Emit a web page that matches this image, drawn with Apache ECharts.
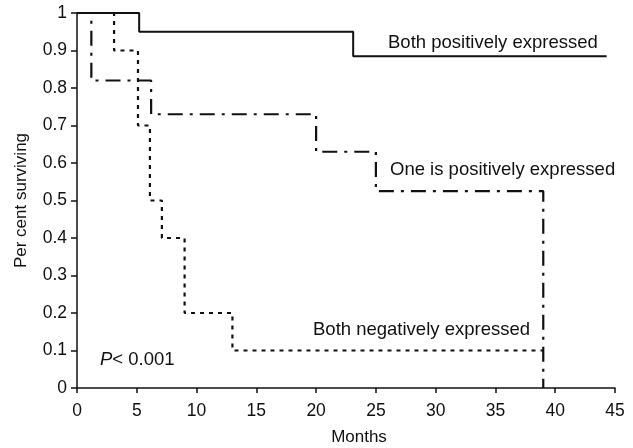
<!DOCTYPE html>
<html>
<head>
<meta charset="utf-8">
<script src="https://cdn.jsdelivr.net/npm/echarts@6/dist/echarts.min.js"></script>
<style>
html,body{margin:0;padding:0;background:#fff;}
#c{width:633px;height:448px;}
</style>
</head>
<body>
<div id="c"></div>
<script>
// Kaplan-Meier step data (months, proportion surviving)
var bothPosMonths = [0, 5.2, 23.1, 44.3];
var bothPosSurv   = [1, 0.95, 0.885, 0.885];

var onePosMonths = [0, 1.2, 6.2, 20, 25, 39];
var onePosSurv   = [1, 0.82, 0.73, 0.63, 0.525, 0];

var bothNegMonths = [0, 3.1, 5.1, 6.1, 7.1, 9, 13, 39];
var bothNegSurv   = [1, 0.9, 0.7, 0.5, 0.4, 0.2, 0.1, 0.1];

var xTicks = [0, 5, 10, 15, 20, 25, 30, 35, 40, 45];
var yTickLabels = ['0', '0.1', '0.2', '0.3', '0.4', '0.5', '0.6', '0.7', '0.8', '0.9', '1'];

var seriesNames = ['Both positively expressed', 'One is positively expressed', 'Both negatively expressed'];

function pairs(xs, ys) { return xs.map(function (x, i) { return [x, ys[i]]; }); }

var font = 'Liberation Sans, Arial, Helvetica, sans-serif';
var chart = echarts.init(document.getElementById('c'), null, { renderer: 'canvas' });

chart.setOption({
  animation: false,
  backgroundColor: '#ffffff',
  grid: { left: 77, right: 18, top: 13, bottom: 60, containLabel: false, outerBoundsMode: 'none' },
  xAxis: {
    type: 'value', min: 0, max: 45, interval: 5,
    name: 'Months', nameLocation: 'middle', nameGap: 41,
    nameTextStyle: { color: '#111', fontSize: 17, fontFamily: font, padding: [0, 0, 0, 26] },
    axisLine: { show: true, lineStyle: { color: '#111', width: 1.5 } },
    axisTick: { show: true, length: 5, lineStyle: { color: '#111', width: 1.5 } },
    axisLabel: { color: '#111', fontSize: 17.5, fontFamily: font, margin: 14 },
    splitLine: { show: false }
  },
  yAxis: {
    type: 'value', min: 0, max: 1, interval: 0.1,
    name: 'Per cent surviving', nameLocation: 'middle', nameGap: 47,
    nameTextStyle: { color: '#111', fontSize: 17, fontFamily: font },
    axisLine: { show: true, lineStyle: { color: '#111', width: 1.5 } },
    axisTick: { show: true, length: 6, lineStyle: { color: '#111', width: 1.5 } },
    axisLabel: {
      color: '#111', fontSize: 17.5, fontFamily: font, margin: 10,
      formatter: function (v) { return yTickLabels[Math.round(v * 10)]; }
    },
    splitLine: { show: false }
  },
  series: [
    {
      name: seriesNames[0], type: 'line', step: 'end', symbol: 'none',
      data: pairs(bothPosMonths, bothPosSurv),
      lineStyle: { color: '#111', width: 2, type: 'solid' }, z: 3
    },
    {
      name: seriesNames[1], type: 'line', step: 'end', symbol: 'none',
      data: pairs(onePosMonths, onePosSurv),
      lineStyle: { color: '#111', width: 2.2, type: [15, 7, 3, 7] }, z: 2
    },
    {
      name: seriesNames[2], type: 'line', step: 'end', symbol: 'none',
      data: pairs(bothNegMonths, bothNegSurv),
      lineStyle: { color: '#111', width: 2.2, type: [4, 5] }, z: 2
    }
  ],
  graphic: [
    { type: 'text', left: 388, top: 33, style: { text: seriesNames[0], fill: '#111', font: '18.5px ' + font } },
    { type: 'text', left: 390, top: 160, style: { text: seriesNames[1], fill: '#111', font: '18.5px ' + font } },
    { type: 'text', left: 313, top: 320, style: { text: seriesNames[2], fill: '#111', font: '18.5px ' + font } },
    { type: 'text', left: 100, top: 350, style: {
        text: '{i|P}{n|< 0.001}',
        rich: { i: { fontStyle: 'italic', fontSize: 18.5, fontFamily: font, fill: '#111' },
                n: { fontSize: 18.5, fontFamily: font, fill: '#111' } }
      } }
  ]
});
</script>
</body>
</html>
